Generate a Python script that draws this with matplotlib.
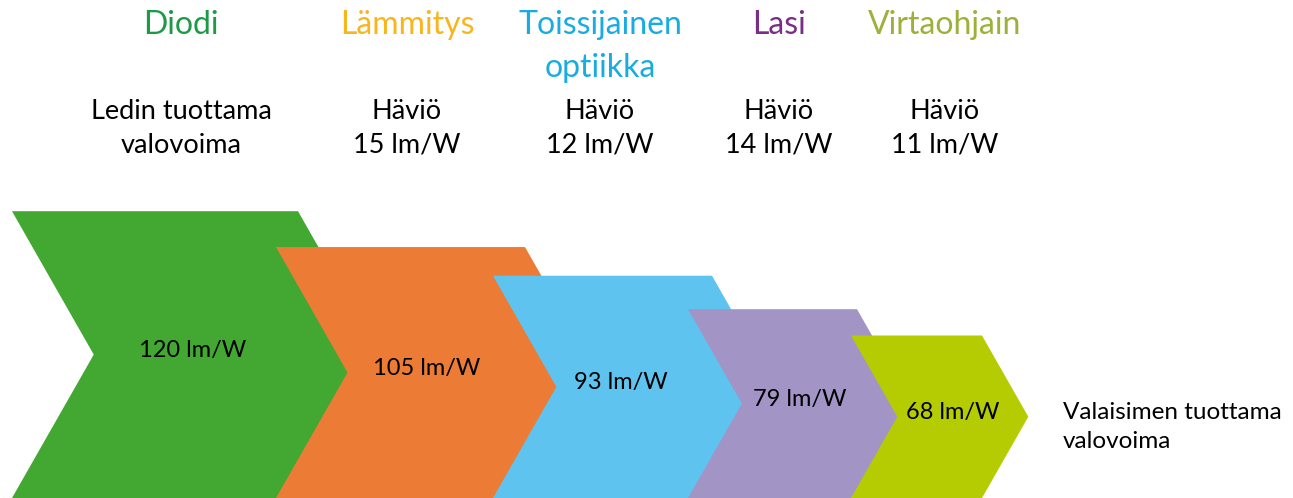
import matplotlib
matplotlib.use("Agg")
import matplotlib.pyplot as plt
from matplotlib.patches import Polygon

plt.rcParams['font.family'] = ['Lato', 'DejaVu Sans']

# ---- data ----
stages = ["Diodi", "Lämmitys", "Toissijainen\noptiikka", "Lasi", "Virtaohjain"]
efficacy = [120, 105, 93, 79, 68]          # lm/W after each stage
losses = [None, 15, 12, 14, 11]            # lm/W lost in each stage
unit = "lm/W"
first_desc = "Ledin tuottama\nvalovoima"
loss_word = "Häviö"
end_desc = "Valaisimen tuottama\nvalovoima"

# ---- styles / layout ----
shape_colors = ["#43a832", "#ec7c35", "#5ec4ef", "#a394c6", "#b5cc02"]
title_colors = ["#1c9a47", "#f9b51c", "#18ace3", "#7a2e87", "#9bb13a"]
lefts = [12, 276, 493, 688, 851]           # px, top-left corner of each chevron
top_widths = [286, 249, 219, 169, 131]     # px
depth_ratio = 0.57
K = 2.39                                   # px per lm/W
label_x = [193, 427, 621, 800, 953]
col_x = [181, 407, 600, 779, 945]

W, H = 1293, 498
fig = plt.figure(figsize=(W / 100, H / 100), dpi=100)
ax = fig.add_axes([0, 0, 1, 1])
ax.set_xlim(0, W)
ax.set_ylim(0, H)
ax.axis("off")

for i, v in enumerate(efficacy):
    h = v * K
    half = h / 2
    d = depth_ratio * half
    x0 = lefts[i]
    w = top_widths[i]
    pts = [(x0, h), (x0 + w, h), (x0 + w + d, half), (x0 + w, 0),
           (x0, 0), (x0 + d, half)]
    ax.add_patch(Polygon(pts, closed=True, facecolor=shape_colors[i],
                         edgecolor="none", zorder=i + 1))
    ax.text(label_x[i], half + 4, f"{v} {unit}", ha="center", va="center",
            fontsize=17, color="black", zorder=10)

for i, name in enumerate(stages):
    lines = name.split("\n")
    for j, line in enumerate(lines):
        ax.text(col_x[i], H - 25 - 43 * j, line, ha="center", va="center",
                fontsize=23, color=title_colors[i])
    if losses[i] is None:
        l1, l2 = first_desc.split("\n")
    else:
        l1, l2 = loss_word, f"{losses[i]} {unit}"
    ax.text(col_x[i], H - 111, l1, ha="center", va="center", fontsize=19.5,
            color="black")
    ax.text(col_x[i], H - 145, l2, ha="center", va="center", fontsize=19.5,
            color="black")

e1, e2 = end_desc.split("\n")
ax.text(1063, H - 412, e1, ha="left", va="center", fontsize=17.5, color="black")
ax.text(1063, H - 441, e2, ha="left", va="center", fontsize=17.5, color="black")

fig.savefig("out.png", dpi=100)
